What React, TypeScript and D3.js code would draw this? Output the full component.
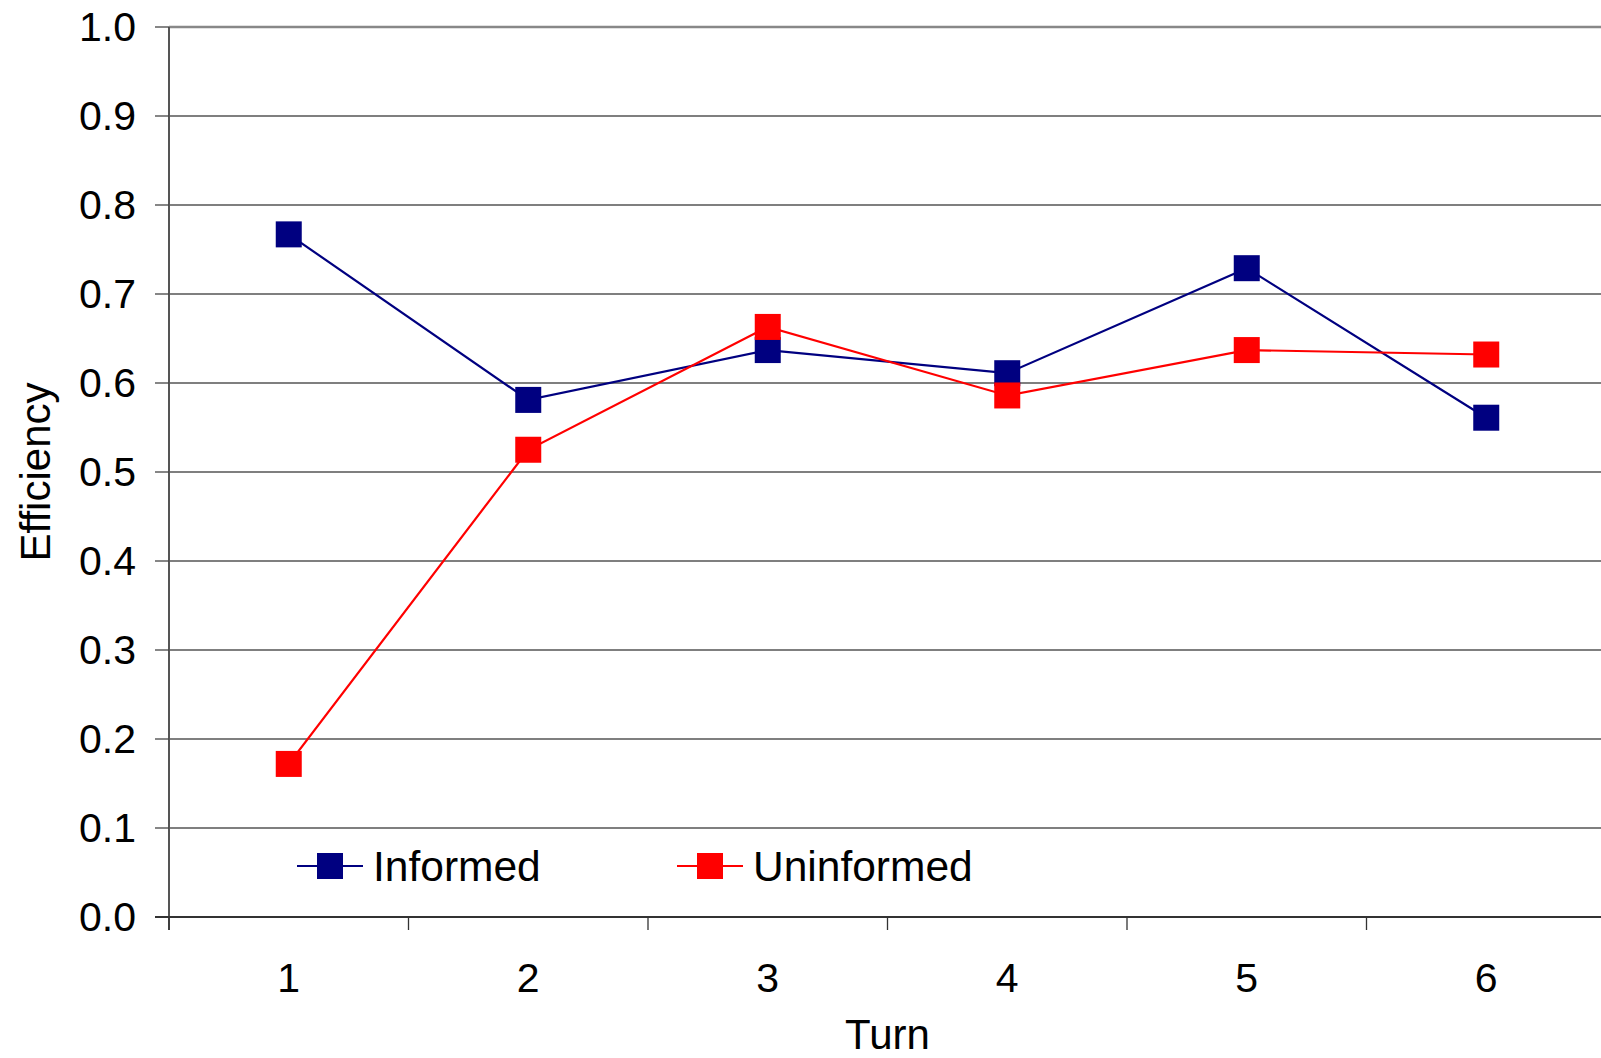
import React from "react";
import * as d3 from "d3";

const turns = ["1", "2", "3", "4", "5", "6"];
const informed = [0.767, 0.581, 0.637, 0.611, 0.729, 0.561];
const uninformed = [0.172, 0.525, 0.663, 0.586, 0.637, 0.632];
const yTicks = [0, 0.1, 0.2, 0.3, 0.4, 0.5, 0.6, 0.7, 0.8, 0.9, 1.0];

const W = 1601;
const H = 1058;
const left = 169;
const right = 1606;
const top = 27;
const bottom = 917;
const FONT = "Arial, 'Liberation Sans', sans-serif";
const FS = 41;
const FS_TITLE = 42;
const FS_LEGEND = 42.5;
const MARK = 26;

const seriesList = [
  { name: "Informed", values: informed, color: "#000080", legendX: 297 },
  { name: "Uninformed", values: uninformed, color: "#FF0000", legendX: 677 },
];

export default function App() {
  const x = d3.scaleBand<string>().domain(turns).range([left, right]).padding(0);
  const y = d3.scaleLinear().domain([0, 1]).range([bottom, top]);
  const cx = (t: string) => (x(t) as number) + x.bandwidth() / 2;

  const line = d3
    .line<number>()
    .x((_, i) => cx(turns[i]))
    .y((v) => y(v));

  const boundaries = d3.range(turns.length + 1).map((i) => left + i * x.bandwidth());

  return (
    <svg
      width={W}
      height={H}
      style={{ position: "absolute", left: 0, top: 0, background: "#fff" }}
      fontFamily={FONT}
    >
      {/* horizontal gridlines */}
      {yTicks.slice(1, -1).map((t) => (
        <line key={t} x1={left} x2={right} y1={y(t)} y2={y(t)} stroke="#555" strokeWidth={1.3} />
      ))}
      {/* plot area top border */}
      <line x1={left} x2={right} y1={y(1)} y2={y(1)} stroke="#888" strokeWidth={2.5} />

      {/* y axis */}
      <line x1={left} x2={left} y1={top} y2={bottom + 13} stroke="#555" strokeWidth={2} />
      {yTicks.map((t) => (
        <g key={t}>
          <line x1={155} x2={left} y1={y(t)} y2={y(t)} stroke="#444" strokeWidth={1.3} />
          <text
            x={136}
            y={y(t)}
            dy="0.35em"
            textAnchor="end"
            fontSize={FS}
            fill="#000"
          >
            {d3.format(".1f")(t)}
          </text>
        </g>
      ))}

      {/* x axis */}
      <line x1={155} x2={right} y1={bottom} y2={bottom} stroke="#333" strokeWidth={2} />
      {boundaries.map((b, i) => (
        <line key={i} x1={b} x2={b} y1={bottom} y2={bottom + 13} stroke="#333" strokeWidth={1.3} />
      ))}
      {turns.map((t) => (
        <text key={t} x={cx(t)} y={992} textAnchor="middle" fontSize={FS} fill="#000">
          {t}
        </text>
      ))}

      {/* axis titles */}
      <text x={(left + right) / 2} y={1049} textAnchor="middle" fontSize={FS_TITLE} fill="#000">
        Turn
      </text>
      <text
        transform={`translate(50, ${(top + bottom) / 2}) rotate(-90)`}
        textAnchor="middle"
        fontSize={FS_TITLE}
        fill="#000"
      >
        Efficiency
      </text>

      {/* series */}
      {seriesList.map((s) => (
        <g key={s.name}>
          <path d={line(s.values) || ""} fill="none" stroke={s.color} strokeWidth={2.2} />
          {s.values.map((v, i) => (
            <rect
              key={i}
              x={cx(turns[i]) - MARK / 2}
              y={y(v) - MARK / 2}
              width={MARK}
              height={MARK}
              fill={s.color}
            />
          ))}
        </g>
      ))}

      {/* legend */}
      {seriesList.map((s) => (
        <g key={s.name}>
          <line x1={s.legendX} x2={s.legendX + 66} y1={866} y2={866} stroke={s.color} strokeWidth={2.2} />
          <rect x={s.legendX + 20} y={853} width={MARK} height={MARK} fill={s.color} />
          <text x={s.legendX + 76} y={881} fontSize={FS_LEGEND} fill="#000">
            {s.name}
          </text>
        </g>
      ))}
    </svg>
  );
}
